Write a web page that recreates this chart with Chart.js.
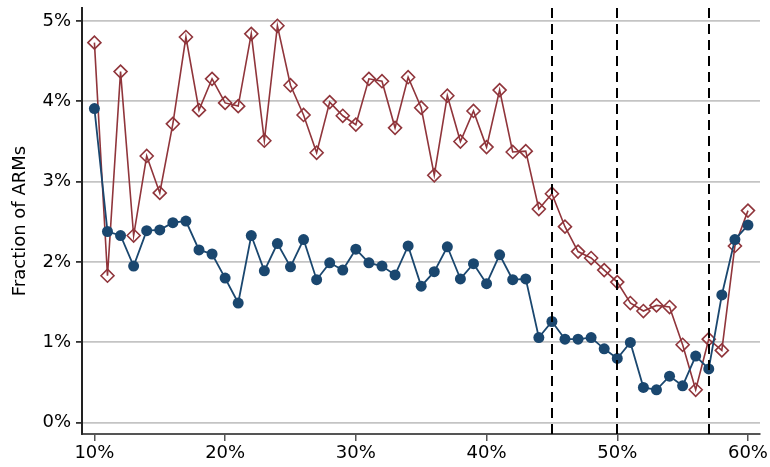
<!DOCTYPE html>
<html>
<head>
<meta charset="utf-8">
<script src="https://cdn.jsdelivr.net/npm/chart.js@4.4.1/dist/chart.umd.min.js"></script>
<style>
  html, body { margin: 0; padding: 0; background: #fff; }
  #wrap { width: 770px; height: 467px; }
</style>
</head>
<body>
<div id="wrap"><canvas id="chart" width="770" height="467"></canvas></div>
<script>
// threshold on x (percent)
const xValues = [10,11,12,13,14,15,16,17,18,19,20,21,22,23,24,25,26,27,28,29,30,31,32,33,34,35,36,37,38,39,40,41,42,43,44,45,46,47,48,49,50,51,52,53,54,55,56,57,58,59,60];

const blueSeries = [3.91,2.38,2.33,1.95,2.39,2.40,2.49,2.51,2.15,2.10,1.80,1.49,2.33,1.89,2.23,1.94,2.28,1.78,1.99,1.90,2.16,1.99,1.95,1.84,2.20,1.70,1.88,2.19,1.79,1.98,1.73,2.09,1.78,1.79,1.06,1.26,1.04,1.04,1.06,0.92,0.80,1.00,0.44,0.41,0.58,0.46,0.83,0.67,1.59,2.28,2.46];

const redSeries = [4.73,1.83,4.37,2.33,3.32,2.86,3.72,4.80,3.89,4.28,3.98,3.94,4.84,3.51,4.94,4.20,3.83,3.36,3.99,3.82,3.71,4.28,4.25,3.67,4.30,3.92,3.08,4.07,3.50,3.88,3.43,4.14,3.37,3.38,2.66,2.85,2.44,2.13,2.05,1.90,1.75,1.49,1.39,1.46,1.44,0.97,0.41,1.04,0.90,2.20,2.64];

const xTicks = [10, 20, 30, 40, 50, 60];
const yTicks = [0, 1, 2, 3, 4, 5];
const cutoffs = [45, 50, 57];

const blue = '#1a476f';
const red = '#90353b';

const cutoffLines = {
  id: 'cutoffLines',
  afterDatasetsDraw(chart) {
    const { ctx, chartArea, scales } = chart;
    ctx.save();
    ctx.strokeStyle = '#000';
    ctx.lineWidth = 2;
    ctx.setLineDash([10, 6]);
    cutoffs.forEach(v => {
      const x = Math.round(scales.x.getPixelForValue(v));
      ctx.beginPath();
      ctx.moveTo(x, chartArea.top);
      ctx.lineTo(x, chartArea.bottom);
      ctx.stroke();
    });
    ctx.restore();
  }
};

new Chart(document.getElementById('chart'), {
  type: 'line',
  data: {
    datasets: [
      {
        data: xValues.map((x, i) => ({ x, y: blueSeries[i] })),
        borderColor: blue,
        backgroundColor: blue,
        borderWidth: 1.8,
        pointStyle: 'circle',
        pointRadius: 5.5,
        pointBorderWidth: 0,
        pointBackgroundColor: blue,
        tension: 0
      },
      {
        data: xValues.map((x, i) => ({ x, y: redSeries[i] })),
        borderColor: red,
        backgroundColor: 'rgba(0,0,0,0)',
        borderWidth: 1.6,
        pointStyle: 'rectRot',
        pointRadius: 6.5,
        pointBorderWidth: 1.6,
        pointBorderColor: red,
        pointBackgroundColor: 'rgba(0,0,0,0)',
        tension: 0
      }
    ]
  },
  options: {
    responsive: false,
    animation: false,
    layout: { padding: { top: 8, right: 10, left: 0, bottom: 0 } },
    plugins: { legend: { display: false }, tooltip: { enabled: false } },
    scales: {
      x: {
        type: 'linear',
        min: 9.05,
        max: 60.92,
        afterBuildTicks: s => { s.ticks = xTicks.map(v => ({ value: v })); },
        afterFit: s => { s.height = 33; s.paddingLeft = 0; s.paddingRight = 0; },
        grid: { display: true, drawOnChartArea: false, drawTicks: true, tickLength: 7, tickColor: '#555', lineWidth: 1.5 },
        border: { display: true, color: '#555', width: 2 },
        ticks: {
          color: '#000',
          padding: 2,
          maxRotation: 0,
          font: { family: 'DejaVu Sans', size: 18 },
          callback: v => v + '%'
        }
      },
      y: {
        min: -0.14,
        max: 5.16,
        afterBuildTicks: s => { s.ticks = yTicks.map(v => ({ value: v })); },
        afterFit: s => { s.width = 82; s.paddingTop = 0; s.paddingBottom = 0; },
        grid: { color: '#c4c4c4', lineWidth: 1.8, drawTicks: true, tickLength: 6, tickColor: '#333' },
        border: { display: true, color: '#222', width: 2 },
        ticks: {
          color: '#000',
          padding: 5,
          font: { family: 'DejaVu Sans', size: 18 },
          callback: v => v + '%'
        },
        title: {
          display: true,
          text: 'Fraction of ARMs',
          color: '#000',
          padding: { top: 10, bottom: 4 },
          font: { family: 'DejaVu Sans', size: 18 }
        }
      }
    }
  },
  plugins: [cutoffLines]
});
</script>
</body>
</html>
